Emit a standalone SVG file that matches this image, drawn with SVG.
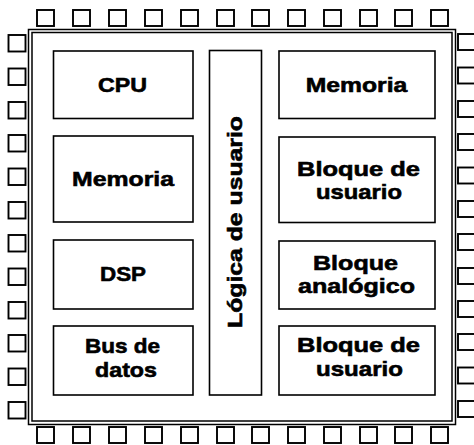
<svg xmlns="http://www.w3.org/2000/svg" width="474" height="445" viewBox="0 0 474 445">
<style>
.pin{fill:#fff;stroke:#000;stroke-width:1.9}
.frame{fill:none;stroke:#000;stroke-width:1.5}
.box{fill:#fff;stroke:#000;stroke-width:1.6}
.lbl{font-family:"Liberation Sans",Arial,Helvetica,sans-serif;font-weight:bold;font-size:21px;fill:#000;stroke:#000;stroke-width:0.6;text-anchor:middle}
</style>
<rect x="0" y="0" width="474" height="445" fill="#fff"/>
<g id="pins-top">
<rect class="pin" x="37" y="10" width="17" height="16"/>
<rect class="pin" x="73" y="10" width="17" height="16"/>
<rect class="pin" x="109" y="10" width="17" height="16"/>
<rect class="pin" x="145" y="10" width="17" height="16"/>
<rect class="pin" x="181" y="10" width="17" height="16"/>
<rect class="pin" x="217" y="10" width="17" height="16"/>
<rect class="pin" x="252" y="10" width="17" height="16"/>
<rect class="pin" x="288" y="10" width="17" height="16"/>
<rect class="pin" x="324" y="10" width="17" height="16"/>
<rect class="pin" x="360" y="10" width="17" height="16"/>
<rect class="pin" x="395" y="10" width="17" height="16"/>
<rect class="pin" x="431" y="10" width="17" height="16"/>
</g>
<g id="pins-bottom">
<rect class="pin" x="37" y="427" width="17" height="16"/>
<rect class="pin" x="73" y="427" width="17" height="16"/>
<rect class="pin" x="109" y="427" width="17" height="16"/>
<rect class="pin" x="145" y="427" width="17" height="16"/>
<rect class="pin" x="181" y="427" width="17" height="16"/>
<rect class="pin" x="217" y="427" width="17" height="16"/>
<rect class="pin" x="252" y="427" width="17" height="16"/>
<rect class="pin" x="288" y="427" width="17" height="16"/>
<rect class="pin" x="324" y="427" width="17" height="16"/>
<rect class="pin" x="360" y="427" width="17" height="16"/>
<rect class="pin" x="395" y="427" width="17" height="16"/>
<rect class="pin" x="431" y="427" width="17" height="16"/>
</g>
<g id="pins-left">
<rect class="pin" x="8.5" y="35" width="17" height="16.5"/>
<rect class="pin" x="8.5" y="68.5" width="17" height="16.5"/>
<rect class="pin" x="8.5" y="102" width="17" height="16.5"/>
<rect class="pin" x="8.5" y="135" width="17" height="16.5"/>
<rect class="pin" x="8.5" y="168.5" width="17" height="16.5"/>
<rect class="pin" x="8.5" y="202" width="17" height="16.5"/>
<rect class="pin" x="8.5" y="235" width="17" height="16.5"/>
<rect class="pin" x="8.5" y="268.5" width="17" height="16.5"/>
<rect class="pin" x="8.5" y="302" width="17" height="16.5"/>
<rect class="pin" x="8.5" y="335" width="17" height="16.5"/>
<rect class="pin" x="8.5" y="368.5" width="17" height="16.5"/>
<rect class="pin" x="8.5" y="402" width="17" height="16.5"/>
</g>
<g id="pins-right">
<rect class="pin" x="458" y="34" width="18" height="16"/>
<rect class="pin" x="458" y="67.5" width="18" height="16"/>
<rect class="pin" x="458" y="101" width="18" height="16"/>
<rect class="pin" x="458" y="134" width="18" height="16"/>
<rect class="pin" x="458" y="167.5" width="18" height="16"/>
<rect class="pin" x="458" y="201" width="18" height="16"/>
<rect class="pin" x="458" y="234" width="18" height="16"/>
<rect class="pin" x="458" y="268" width="18" height="16"/>
<rect class="pin" x="458" y="301" width="18" height="16"/>
<rect class="pin" x="458" y="334" width="18" height="16"/>
<rect class="pin" x="458" y="367.5" width="18" height="16"/>
<rect class="pin" x="458" y="401" width="18" height="16"/>
</g>
<g id="chip-frame">
<rect class="frame" x="28.5" y="29.5" width="427" height="395"/>
<rect class="frame" x="32" y="32.5" width="420" height="388.5"/>
</g>
<g id="cpu">
<rect class="box" x="53.5" y="51" width="139.5" height="67.5"/>
<text class="lbl" x="122.5" y="92" textLength="49" lengthAdjust="spacingAndGlyphs">CPU</text>
</g>
<g id="memoria-izq">
<rect class="box" x="53.5" y="136" width="139.5" height="86"/>
<text class="lbl" x="123" y="186" textLength="102" lengthAdjust="spacingAndGlyphs">Memoria</text>
</g>
<g id="dsp">
<rect class="box" x="53.5" y="240" width="139.5" height="69"/>
<text class="lbl" x="123" y="281" textLength="46" lengthAdjust="spacingAndGlyphs">DSP</text>
</g>
<g id="bus-datos">
<rect class="box" x="53.5" y="326" width="139.5" height="69"/>
<text class="lbl" x="122.5" y="353" textLength="75" lengthAdjust="spacingAndGlyphs">Bus de</text>
<text class="lbl" x="126" y="377" textLength="62" lengthAdjust="spacingAndGlyphs">datos</text>
</g>
<g id="logica-usuario">
<rect class="box" x="209.5" y="50.5" width="52" height="344.5"/>
<text class="lbl" transform="translate(242,222) rotate(-90)" x="0" y="0" textLength="212" lengthAdjust="spacingAndGlyphs">Lógica de usuario</text>
</g>
<g id="memoria-der">
<rect class="box" x="279" y="51" width="156" height="67.5"/>
<text class="lbl" x="356.5" y="92" textLength="101.5" lengthAdjust="spacingAndGlyphs">Memoria</text>
</g>
<g id="bloque-usuario-1">
<rect class="box" x="279" y="137" width="156" height="85.5"/>
<text class="lbl" x="358.5" y="176" textLength="123" lengthAdjust="spacingAndGlyphs">Bloque de</text>
<text class="lbl" x="359" y="198.5" textLength="86" lengthAdjust="spacingAndGlyphs">usuario</text>
</g>
<g id="bloque-analogico">
<rect class="box" x="279" y="241" width="156" height="68"/>
<text class="lbl" x="355.5" y="270" textLength="85" lengthAdjust="spacingAndGlyphs">Bloque</text>
<text class="lbl" x="356.5" y="293" textLength="117" lengthAdjust="spacingAndGlyphs">analógico</text>
</g>
<g id="bloque-usuario-2">
<rect class="box" x="279" y="326" width="156" height="69"/>
<text class="lbl" x="358.5" y="352" textLength="123" lengthAdjust="spacingAndGlyphs">Bloque de</text>
<text class="lbl" x="359.5" y="376" textLength="87" lengthAdjust="spacingAndGlyphs">usuario</text>
</g>
</svg>
